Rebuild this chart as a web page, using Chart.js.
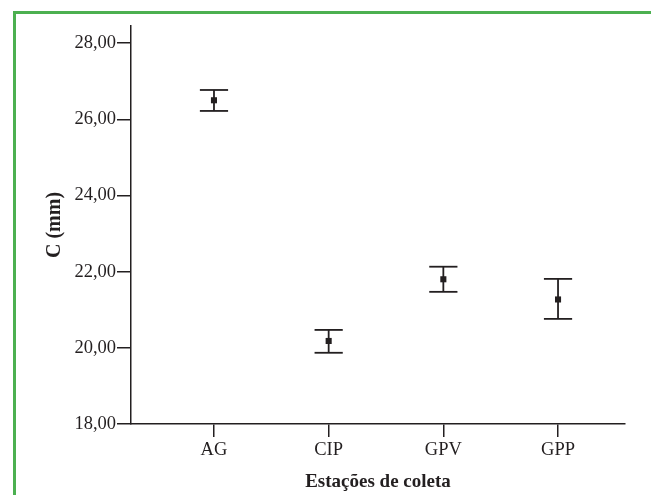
<!DOCTYPE html>
<html>
<head>
<meta charset="utf-8">
<script src="https://cdn.jsdelivr.net/npm/chart.js@4/dist/chart.umd.min.js"></script>
<style>
  body { margin: 0; background: #fff; }
  #wrap { position: relative; width: 651px; height: 495px; overflow: hidden; }
  #frame { position: absolute; left: 13px; top: 11px; width: 700px; height: 600px;
           border-left: 3px solid #4cb050; border-top: 3px solid #4cb050; }
  canvas { position: absolute; left: 0; top: 0; }
</style>
</head>
<body>
<div id="wrap">
  <div id="frame"></div>
  <canvas id="c" width="651" height="495"></canvas>
</div>
<script>
// data (mean and error bar ends)
const categories = ["AG", "CIP", "GPV", "GPP"];
const means = [26.50, 20.18, 21.80, 21.27];
const upper = [26.77, 20.47, 22.13, 21.81];
const lower = [26.22, 19.87, 21.47, 20.76];
const yTicks = [18, 20, 22, 24, 26, 28];

const ink = "#231f20";
const font = "'Liberation Serif', 'Times New Roman', serif";
const capHalf = 0.123;

// error bars as small line datasets
const barSets = [];
categories.forEach((c, i) => {
  const x = i + 1;
  const line = { type: "line", showLine: true, borderColor: ink, borderWidth: 1.8, pointRadius: 0, fill: false };
  barSets.push(Object.assign({ data: [{ x: x, y: lower[i] }, { x: x, y: upper[i] }] }, line));
  barSets.push(Object.assign({ data: [{ x: x - capHalf, y: upper[i] }, { x: x + capHalf, y: upper[i] }] }, line));
  barSets.push(Object.assign({ data: [{ x: x - capHalf, y: lower[i] }, { x: x + capHalf, y: lower[i] }] }, line));
});

new Chart(document.getElementById("c"), {
  type: "scatter",
  data: {
    datasets: [
      {
        data: means.map((m, i) => ({ x: i + 1, y: m })),
        pointStyle: "rect",
        pointRadius: 4.3,
        borderWidth: 0,
        backgroundColor: ink,
        borderColor: ink
      }
    ].concat(barSets)
  },
  options: {
    responsive: false,
    animation: false,
    layout: { padding: { left: 43, top: 26, right: 26, bottom: 0 } },
    plugins: { legend: { display: false }, tooltip: { enabled: false } },
    scales: {
      x: {
        type: "linear",
        min: 0.2764,
        max: 4.584,
        afterFit: s => { s.height = 71; },
        afterBuildTicks: s => { s.ticks = categories.map((c, i) => ({ value: i + 1 })); },
        border: { display: true, color: ink, width: 1.5 },
        grid: { drawOnChartArea: false, drawTicks: true, tickLength: 13, color: ink, lineWidth: 1.5 },
        ticks: {
          padding: 2,
          color: ink,
          font: { family: font, size: 18.5 },
          maxRotation: 0,
          callback: v => categories[v - 1]
        },
        title: {
          display: true,
          text: "Estações de coleta",
          color: ink,
          font: { family: font, size: 19, weight: "bold" },
          padding: { top: 0, bottom: 2 }
        }
      },
      y: {
        min: 18,
        max: 28.45,
        afterFit: s => { s.width = 88; },
        afterBuildTicks: s => { s.ticks = yTicks.map(v => ({ value: v })); },
        border: { display: true, color: ink, width: 1.5 },
        grid: { drawOnChartArea: false, drawTicks: true, tickLength: 14, color: ink, lineWidth: 1.5 },
        ticks: {
          padding: 1,
          color: ink,
          font: { family: font, size: 18.5 },
          callback: v => v.toFixed(2).replace(".", ",")
        },
        title: {
          display: true,
          text: "C (mm)",
          color: ink,
          font: { family: font, size: 20, weight: "bold" },
          padding: 0
        }
      }
    }
  }
});
</script>
</body>
</html>
